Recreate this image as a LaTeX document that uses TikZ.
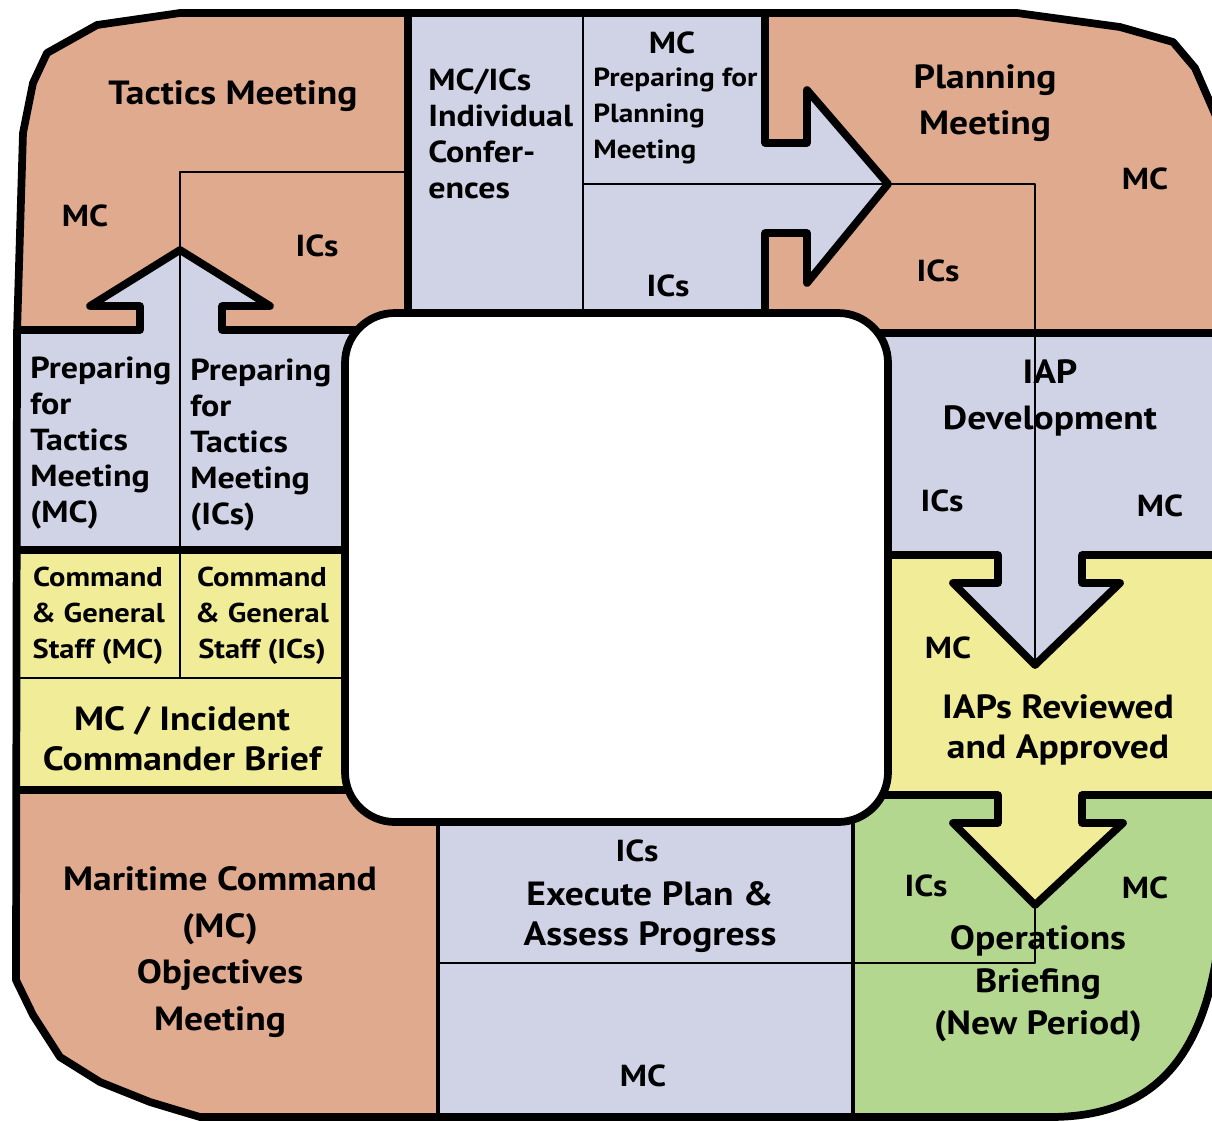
\documentclass[tikz,border=0pt]{standalone}
\usepackage{fontspec}
\setmainfont{PT Sans}[FakeStretch=1.12]
\definecolor{salmon}{RGB}{224,170,142}
\definecolor{lavender}{RGB}{208,210,230}
\definecolor{paleyellow}{RGB}{240,236,152}
\definecolor{palegreen}{RGB}{180,215,143}
\def\rimpath{(180,13) -- (1017,13) -- (1120,27) -- (1173,42) -- (1195,68) -- (1222,130) -- (1222,900) .. controls (1215,1050) and (1160,1117) .. (1050,1117) -- (200,1117) -- (150,1102) -- (100,1082) -- (60,1057) -- (33,1015) -- (16,980) -- (17,333) -- (23,133) -- (33,83) -- (47,53) -- (97,25) -- cycle}

\begin{document}
\begin{tikzpicture}[x=0.02cm, y=-0.02cm, line join=round,
    rim/.style={line width=4.4pt},
    mid line/.style={line width=2.8pt},
    thin line/.style={line width=1.3pt},
    small node/.style={font=\bfseries\fontsize{17.3}{20.4}\selectfont, inner sep=0pt},
    tight node/.style={small node, font=\bfseries\fontsize{15.5}{20.4}\selectfont},
    big node/.style={font=\bfseries\fontsize{19.1}{22.7}\selectfont, inner sep=0pt, align=center},
    wide node/.style={big node, font=\bfseries\fontsize{19.1}{26.6}\selectfont}]

  \useasboundingbox (0,0) rectangle (1212,1120);

  \begin{scope}
    \clip \rimpath;
    \fill[salmon] (0,0) rectangle (1230,1130);
    \fill[palegreen] (853,795) rectangle (1230,1130);
    \fill[paleyellow] (0,550) rectangle (380,790);
    \fill[paleyellow] (853,555) -- (1230,555) -- (1230,795) -- (1082,795) -- (1082,823) -- (1123,823)
      -- (1035,905) -- (953,823) -- (998,823) -- (998,795) -- (853,795) -- cycle;
    \fill[lavender] (0,330) -- (140,330) -- (140,306) -- (90,306) -- (180,250) -- (270,306) -- (222,306)
      -- (222,330) -- (380,330) -- (380,550) -- (0,550) -- cycle;
    \fill[lavender] (408,0) -- (765,0) -- (765,143) -- (807,143) -- (807,90) -- (888,184) -- (807,283)
      -- (807,233) -- (765,233) -- (765,330) -- (408,330) -- cycle;
    \fill[lavender] (853,333) -- (1230,333) -- (1230,555) -- (1082,555) -- (1082,583) -- (1120,583)
      -- (1035,665) -- (953,583) -- (998,583) -- (998,555) -- (853,555) -- cycle;
    \fill[lavender] (438,800) rectangle (853,1130);
  \end{scope}

  \draw[thin line] (180,678) -- (180,172) -- (408,172);
  \draw[thin line] (16,678) -- (345,678);
  \draw[thin line] (583,13) -- (583,313);
  \draw[thin line] (583,184) -- (1035,184) -- (1035,665);
  \draw[thin line] (438,963) -- (1035,963) -- (1035,905);

  \draw[rim] (16,330) -- (140,330) -- (140,306) -- (90,306) -- (180,250) -- (270,306) -- (222,306)
    -- (222,330) -- (360,330);
  \draw[rim] (408,13) -- (408,313);
  \draw[rim] (765,13) -- (765,143) -- (807,143) -- (807,90) -- (888,184) -- (807,283) -- (807,233)
    -- (765,233) -- (765,313);
  \draw[rim] (870,333) -- (1222,333);
  \draw[rim] (16,550) -- (350,550);
  \draw[rim] (16,790) -- (355,790);
  \draw[rim] (885,555) -- (998,555) -- (998,583) -- (953,583) -- (1035,665) -- (1120,583) -- (1082,583)
    -- (1082,555) -- (1222,555);
  \draw[rim] (875,795) -- (998,795) -- (998,823) -- (953,823) -- (1035,905) -- (1123,823) -- (1082,823)
    -- (1082,795) -- (1222,795);
  \draw[mid line] (438,822) -- (438,1120);
  \draw[mid line] (853,822) -- (853,1120);

  \draw[rim, fill=white, rounded corners=1cm] (345,313) rectangle (888,822);
  \draw[rim] \rimpath;

  \node[wide node] (tactics) at (233,96) {Tactics Meeting};
  \node[small node] (tacMC) at (85,216) {MC};
  \node[small node] (tacIC) at (317,246) {ICs};

  \node[small node, anchor=west, align=left] (confer) at (428,134) {MC/ICs\\Individual\\Confer-\\ences};
  \node[small node] (prepMC) at (672,43) {MC};
  \node[tight node, anchor=west, align=left, font=\bfseries\fontsize{14.9}{20.4}\selectfont] (prepPlan) at (593,116) {Preparing for\\Planning\\Meeting};
  \node[small node] (prepIC) at (668,286) {ICs};

  \node[wide node] (planning) at (985,103) {Planning\\Meeting};
  \node[small node] (planMC) at (1145,179) {MC};
  \node[small node] (planIC) at (938,271) {ICs};

  \node[small node, anchor=west, align=left] (prepTacMC) at (30,443) {Preparing\\for\\Tactics\\Meeting\\(MC)};
  \node[small node, anchor=west, align=left] (prepTacIC) at (190,445) {Preparing\\for\\Tactics\\Meeting\\(ICs)};

  \node[tight node, align=center] (staffMC) at (98,616) {Command\\\& General\\Staff (MC)};
  \node[tight node, align=center] (staffIC) at (262,616) {Command\\\& General\\Staff (ICs)};
  \node[big node] (brief) at (182,739) {MC / Incident\\Commander Brief};

  \node[wide node] (objectives) at (220,952) {Maritime Command\\(MC)\\Objectives\\Meeting};

  \node[small node] (execIC) at (637,851) {ICs};
  \node[big node] (execute) at (650,917) {Execute Plan \&\\Assess Progress};
  \node[small node] (execMC) at (643,1076) {MC};

  \node[wide node] (iap) at (1050,398) {IAP\\Development};
  \node[small node] (iapIC) at (942,501) {ICs};
  \node[small node] (iapMC) at (1160,506) {MC};

  \node[small node] (revMC) at (948,648) {MC};
  \node[big node] (reviewed) at (1058,730) {IAPs Reviewed\\and Approved};

  \node[small node] (opsIC) at (926,886) {ICs};
  \node[small node] (opsMC) at (1145,888) {MC};
  \node[big node, font=\bfseries\fontsize{19.1}{24.2}\selectfont] (operations) at (1038,984) {Operations\\Briefing\\(New Period)};
\end{tikzpicture}
\end{document}
